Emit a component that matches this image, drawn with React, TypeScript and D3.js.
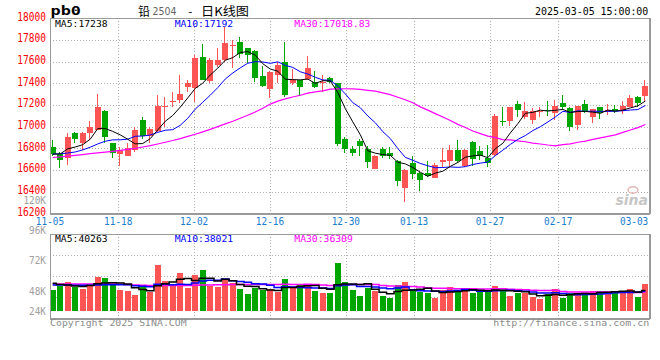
import React from "react";
import * as d3 from "d3";

// ---------- data ----------
const dates = [
  "11-05","11-06","11-07","11-08","11-11","11-12","11-13","11-14","11-15",
  "11-18","11-19","11-20","11-21","11-22","11-25","11-26","11-27","11-28","11-29",
  "12-02","12-03","12-04","12-05","12-06","12-09","12-10","12-11","12-12","12-13",
  "12-16","12-17","12-18","12-19","12-20","12-23","12-24","12-25","12-26","12-27",
  "12-30","12-31","01-02","01-03","01-06","01-07","01-08","01-09","01-10",
  "01-13","01-14","01-15","01-16","01-17","01-20","01-21","01-22","01-23","01-24",
  "01-27","02-05","02-06","02-07","02-10","02-11","02-12","02-13","02-14",
  "02-17","02-18","02-19","02-20","02-21","02-24","02-25","02-26","02-27","02-28",
  "03-03","03-04","03-05",
];

const open = [
  16810,16745,16715,16945,16850,16940,16970,17145,16845,16745,
  16730,16780,17060,16915,16960,17180,17225,17245,17370,17355,
  17645,17425,17565,17615,17745,17780,17725,17700,17465,17345,
  17475,17600,17405,17430,17440,17415,17405,17445,17400,16885,
  16795,16865,16795,16610,16795,16755,16685,16435,16660,16575,
  16570,16530,16675,16685,16785,16635,16860,16775,16715,16740,
  17055,17055,17210,17090,17060,17135,17155,17130,17220,17170,
  17015,17210,17085,17180,17135,17165,17140,17185,17275,17285,
];
const high = [
  16875,16770,16940,16950,16955,17055,17300,17155,16850,16815,
  16845,17000,17085,17000,17290,17275,17320,17475,17430,17660,
  17765,17630,17725,17920,17800,17830,17730,17710,17560,17510,
  17600,17780,17530,17435,17650,17515,17475,17460,17405,16900,
  16820,16890,16820,16735,16810,16810,16690,16605,16730,16580,
  16685,16660,16800,16835,16875,16790,16870,16820,16835,17115,
  17185,17185,17240,17230,17170,17185,17240,17245,17290,17185,
  17195,17245,17165,17185,17210,17200,17240,17290,17285,17430,
];
const low = [
  16730,16615,16645,16845,16785,16875,16965,16850,16715,16640,
  16725,16770,16890,16850,16955,17000,17185,17220,17320,17230,
  17430,17405,17555,17600,17540,17630,17585,17415,17370,17260,
  17400,17275,17385,17285,17430,17360,17320,17400,16825,16755,
  16725,16730,16615,16605,16715,16700,16450,16300,16515,16410,
  16535,16525,16625,16630,16665,16625,16640,16690,16625,16730,
  17005,17005,17085,17075,17025,17085,17100,17060,17155,16960,
  16970,17125,17030,17075,17105,17125,17115,17180,17185,17230,
];
const close = [
  16745,16690,16900,16885,16945,17000,17180,16900,16755,16785,
  16800,16965,16915,16980,17190,17195,17235,17300,17405,17630,
  17435,17615,17615,17770,17750,17670,17660,17450,17375,17505,
  17570,17290,17430,17365,17540,17370,17415,17415,16840,16790,
  16760,16820,16675,16730,16725,16725,16500,16600,16565,16505,
  16540,16645,16690,16785,16685,16785,16705,16725,16665,17100,
  17040,17180,17155,17140,17145,17140,17140,17190,17180,17000,
  17190,17140,17160,17125,17150,17140,17190,17260,17220,17375,
];
// volume, thousands of lots
const volumeK = [
  40.7,49.1,56.3,47.1,43.3,50.4,66.5,64.6,50.4,40.7,
  39.4,31.6,47.1,37.4,89.2,58.8,48.5,74.3,45.2,69.3,
  79.5,49.1,47.1,62.1,54.9,43.3,33.6,44.0,40.7,43.3,
  37.4,62.1,44.0,50.4,50.4,39.4,35.5,35.5,93.7,56.8,
  40.7,29.7,44.0,38.8,29.7,25.8,50.4,56.8,40.7,37.4,
  34.3,25.8,40.7,47.1,40.7,42.7,34.3,37.4,40.7,49.1,
  38.8,29.7,34.3,34.3,27.7,22.7,33.0,42.7,25.8,34.3,
  32.4,34.3,39.4,38.8,37.4,36.3,39.4,42.7,27.7,52.4,
];

// moving-average values at the first bars (history before 11-05)
const ma5Head = [16745, 16748, 16795, 16812];
const ma10Head = [16747, 16750, 16756, 16766, 16785, 16810, 16840, 16865, 16878];
const ma30Head = [
  16715,16720,16728,16735,16742,16750,16758,16765,16772,16780,
  16790,16800,16812,16825,16840,16856,16872,16890,16910,16930,
  16952,16975,17000,17025,17050,17077,17105,17135,17170,
];
const vma5Head = [53.7, 51.5, 50.4, 48.5];
const vma10Head = [50.4, 50.4, 50.4, 50.0, 50.0, 50.0, 50.4, 50.8, 50.8];
const vma30Head = [
  52.4,52.4,52.4,52.4,52.4,52.4,52.4,52.4,52.4,51.8,
  51.2,50.6,50.0,49.6,49.6,49.6,49.6,49.6,49.6,50.0,
  50.4,50.6,50.8,51.0,51.2,51.3,51.4,51.5,51.5,
];

const priceTicks = [18000,17800,17600,17400,17200,17000,16800,16600,16400,16200];
const volTickValues = [120, 96, 72, 48, 24];
const volTickLabels = ["120K", "96K", "72K", "48K", "24K"];
const dateTicks = ["11-05","11-18","12-02","12-16","12-30","01-13","01-27","02-17","03-03"];
const gridDates = ["11-18","12-02","12-16","12-30","01-13","01-27","02-17"];

const priceLegend = [
  { text: "MA5:17238", color: "#000000" },
  { text: "MA10:17192", color: "#0000ff" },
  { text: "MA30:17018.83", color: "#ff00ff" },
];
const volLegend = [
  { text: "MA5:40263", color: "#000000" },
  { text: "MA10:38021", color: "#0000ff" },
  { text: "MA30:36309", color: "#ff00ff" },
];

function movingAvg(vals: number[], n: number, head: number[]): number[] {
  return vals.map((_, i) =>
    i < n - 1 ? head[i] : (d3.mean(vals.slice(i - n + 1, i + 1)) as number)
  );
}

const RED = "#ff5454";
const GREEN = "#00a600";
const MONO = "'DejaVu Sans Mono', 'Liberation Mono', monospace";
const CJK = "'Noto Sans CJK SC', 'Noto Sans', sans-serif";

export default function App() {
  const L = 50, R = 649.3;
  const pTop = 18.3, pBot = 213.3;
  const vTop = 234.3, vBot = 317.7;
  const vBase = 311;

  const xC = d3.scalePoint<string>().domain(dates).range([52.7, 645.4]);
  const xG = d3.scalePoint<string>().domain(dates).range([L, R]);
  const yP = d3.scaleLinear().domain([16200, 18000]).range([pBot, pTop]);
  const yV = d3.scaleLinear().domain([0, 120]).range([vBase, vBase - 120 / 1.94]);
  const yVLabel = d3.scaleLinear().domain([48, 120]).range([291, 200]);
  const legendX = d3.scalePoint<number>().domain([0, 1, 2]).range([55, 294.3]);

  const ma5 = movingAvg(close, 5, ma5Head);
  const ma10 = movingAvg(close, 10, ma10Head);
  const ma30 = movingAvg(close, 30, ma30Head);
  const vma5 = movingAvg(volumeK, 5, vma5Head);
  const vma10 = movingAvg(volumeK, 10, vma10Head);
  const vma30 = movingAvg(volumeK, 30, vma30Head);

  const priceLine = d3
    .line<number>()
    .x((_, i) => xC(dates[i]) as number)
    .y((d) => yP(d));
  const volLine = d3
    .line<number>()
    .x((_, i) => xC(dates[i]) as number)
    .y((d) => yV(d))
    .curve(d3.curveStep);

  const crisp = (v: number) => Math.round(v) + 0.5;

  return (
    <div style={{ position: "absolute", left: 0, top: 0, background: "#fff" }}>
      <svg width={660} height={360} style={{ display: "block", background: "#fff" }}>
        {/* header */}
        <text x={50.5} y={14.5} fontFamily={MONO} fontWeight="bold" fontSize={11.5}
          textLength={30.5} lengthAdjust="spacingAndGlyphs" fill="#000">pb0</text>
        <text x={138} y={15.5} fontFamily={CJK} fontSize={12} fill="#000">铅</text>
        <text x={152.5} y={15} fontFamily="'DejaVu Sans', sans-serif" fontSize={10.5}
          textLength={24} lengthAdjust="spacingAndGlyphs" fill="#666">2504</text>
        <text x={187} y={15} fontFamily={MONO} fontSize={11} fill="#000">-</text>
        <text x={201} y={15.5} fontFamily={CJK} fontSize={12} textLength={48}
          lengthAdjust="spacingAndGlyphs" fill="#000">日K线图</text>
        <text x={648.3} y={15} textAnchor="end" fontFamily={MONO} fontSize={10.5}
          textLength={113.3} lengthAdjust="spacingAndGlyphs" fill="#000">2025-03-05 15:00:00</text>

        {/* grid: price panel */}
        <g stroke="#b0b0b0" strokeDasharray="1,2" shapeRendering="crispEdges">
          {priceTicks.slice(1, -1).map((t) => (
            <line key={t} x1={L} x2={R} y1={crisp(yP(t))} y2={crisp(yP(t))} />
          ))}
          {gridDates.map((d) => (
            <line key={"pg" + d} x1={crisp(xG(d) as number)} x2={crisp(xG(d) as number)} y1={pTop} y2={pBot} />
          ))}
          {[1, 2, 3].map((k) => {
            const y = vTop + ((vBot - vTop) * k) / 4;
            return <line key={"vh" + k} x1={L} x2={R} y1={crisp(y)} y2={crisp(y)} />;
          })}
          {gridDates.map((d) => (
            <line key={"vg" + d} x1={crisp(xG(d) as number)} x2={crisp(xG(d) as number)} y1={vTop} y2={vBot} />
          ))}
        </g>

        {/* sina watermark */}
        <ellipse cx={633} cy={190} rx={5} ry={3.2} fill="none" stroke="#e2b4b4" strokeWidth={1.4} />
        <text x={648} y={205} textAnchor="end" fontFamily="'DejaVu Sans', sans-serif"
          fontStyle="italic" fontWeight="bold" fontSize={14} fill="#c6c6c6">sina</text>

        {/* candles */}
        <g shapeRendering="crispEdges">
          {dates.map((d, i) => {
            const cx = Math.round(xC(d) as number);
            const up = close[i] >= open[i];
            const col = up ? RED : GREEN;
            const yT = yP(Math.max(open[i], close[i]));
            const yB = yP(Math.min(open[i], close[i]));
            return (
              <g key={d}>
                <line x1={cx - 0.5} x2={cx - 0.5} y1={yP(high[i])} y2={yP(low[i])} stroke={col} />
                <rect x={cx - 3} y={Math.round(yT)} width={6}
                  height={Math.max(1, Math.round(yB) - Math.round(yT))} fill={col} />
              </g>
            );
          })}
        </g>

        {/* price MAs */}
        <path d={priceLine(ma30) as string} fill="none" stroke="#ff00ff" strokeWidth={1.2} />
        <path d={priceLine(ma10) as string} fill="none" stroke="#0000ff" strokeWidth={1} />
        <path d={priceLine(ma5) as string} fill="none" stroke="#000000" strokeWidth={1} />

        {/* volume bars */}
        <g shapeRendering="crispEdges">
          {dates.map((d, i) => {
            const cx = Math.round(xC(d) as number);
            const up = close[i] >= open[i];
            const yT = Math.round(yV(volumeK[i]));
            return (
              <rect key={"v" + d} x={cx - 3} y={yT} width={6} height={vBase - yT}
                fill={up ? RED : GREEN} />
            );
          })}
        </g>
        <path d={volLine(vma30) as string} fill="none" stroke="#ff00ff" strokeWidth={1.5} />
        <path d={volLine(vma10) as string} fill="none" stroke="#0000ff" strokeWidth={1.5} />
        <path d={volLine(vma5) as string} fill="none" stroke="#000000" strokeWidth={1.5} />

        {/* panel borders */}
        <g stroke="#9a9a9a" fill="none" shapeRendering="crispEdges">
          <line x1={L} x2={R + 1} y1={crisp(pTop)} y2={crisp(pTop)} />
          <line x1={L} x2={R + 1} y1={crisp(pBot)} y2={crisp(pBot)} strokeWidth={2} />
          <line x1={crisp(L)} x2={crisp(L)} y1={pTop} y2={pBot + 1} />
          <line x1={crisp(R)} x2={crisp(R)} y1={pTop} y2={pBot + 1} strokeWidth={2} />
          <line x1={L} x2={R + 1} y1={crisp(vTop)} y2={crisp(vTop)} />
          <line x1={L} x2={R + 1} y1={crisp(vBot)} y2={crisp(vBot)} strokeWidth={2} />
          <line x1={crisp(L)} x2={crisp(L)} y1={vTop} y2={vBot + 1} />
          <line x1={crisp(R)} x2={crisp(R)} y1={vTop} y2={vBot + 1} strokeWidth={2} />
        </g>

        {/* legends */}
        {priceLegend.map((l, k) => (
          <text key={l.text} x={legendX(k)} y={27.3} fontFamily={MONO} fontSize={9.5}
            textLength={l.text.length * 5.85} lengthAdjust="spacingAndGlyphs" fill={l.color}>{l.text}</text>
        ))}
        {volLegend.map((l, k) => (
          <text key={l.text} x={legendX(k)} y={241.8} fontFamily={MONO} fontSize={9.5}
            textLength={l.text.length * 5.85} lengthAdjust="spacingAndGlyphs" fill={l.color}>{l.text}</text>
        ))}

        {/* price axis labels */}
        {priceTicks.map((t) => (
          <text key={"pl" + t} x={46} y={yP(t) + 2.3} textAnchor="end" fontFamily={MONO}
            fontSize={12} textLength={28.7} lengthAdjust="spacingAndGlyphs" fill="#ff0000">{t}</text>
        ))}
        {/* volume axis labels */}
        {volTickValues.map((v, k) => (
          <text key={"vl" + v} x={46} y={Math.min(yVLabel(v), vBase) + 3.8} textAnchor="end"
            fontFamily={MONO} fontSize={11} textLength={volTickLabels[k].length * 5.65}
            lengthAdjust="spacingAndGlyphs" fill="#a0a0a0">{volTickLabels[k]}</text>
        ))}

        {/* date labels */}
        {dateTicks.map((d) => (
          <text key={"dl" + d} x={xG(d) as number} y={225} textAnchor="middle" fontFamily={MONO}
            fontSize={10} textLength={28.3} lengthAdjust="spacingAndGlyphs" fill="#1a7ccc">{d}</text>
        ))}

        {/* footer */}
        <text x={50} y={325.5} fontFamily={MONO} fontSize={9.5} textLength={136.7}
          lengthAdjust="spacingAndGlyphs" fill="#8c8c8c">Copyright 2025 SINA.COM</text>
        <text x={649.3} y={325.5} textAnchor="end" fontFamily={MONO} fontSize={9.5}
          textLength={156} lengthAdjust="spacingAndGlyphs" fill="#8c8c8c">http://finance.sina.com.cn</text>
      </svg>
    </div>
  );
}
